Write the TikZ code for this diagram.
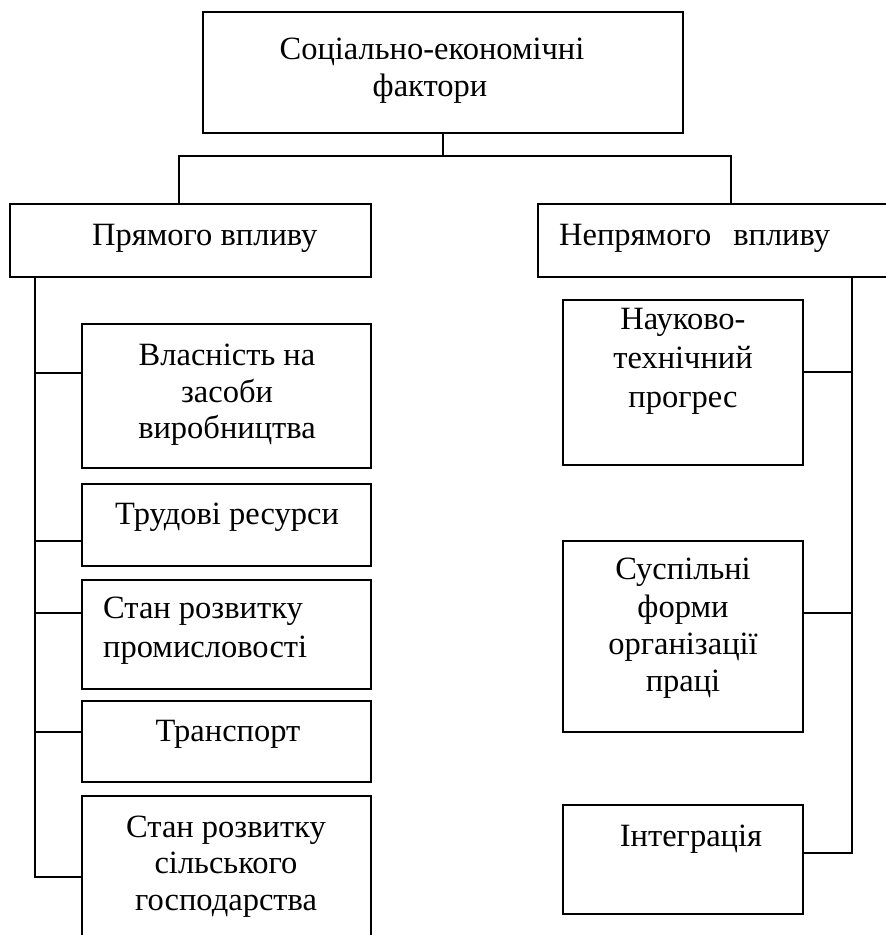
\documentclass[tikz,border=0pt]{standalone}
\usepackage{fontspec}
\setmainfont{Liberation Serif}
\begin{document}
\begin{tikzpicture}[x=1pt,y=-1pt,
  box/.style={draw, line width=1.5pt, anchor=north west, inner sep=0pt, outer sep=0pt},
  txt/.style={anchor=base, inner sep=0pt, font=\fontsize{32.5}{37}\selectfont},
  txtl/.style={txt, anchor=base west},
  conn/.style={line width=1.5pt}]
\useasboundingbox (0,0) rectangle (886,935);
% boxes
\node[box, minimum width=480pt, minimum height=121pt] (top) at (203,12) {};
\node[box, minimum width=361pt, minimum height=73pt] (pl) at (10,204) {};
\node[box, minimum width=360pt, minimum height=73pt] (pr) at (538,204) {};
\node[box, minimum width=289pt, minimum height=144pt] (b1) at (82,324) {};
\node[box, minimum width=289pt, minimum height=82pt] (b2) at (82,484) {};
\node[box, minimum width=289pt, minimum height=109pt] (b3) at (82,580) {};
\node[box, minimum width=289pt, minimum height=81pt] (b4) at (82,701) {};
\node[box, minimum width=289pt, minimum height=150pt] (b5) at (82,796) {};
\node[box, minimum width=240pt, minimum height=165pt] (r1) at (563,300) {};
\node[box, minimum width=240pt, minimum height=191pt] (r2) at (563,541) {};
\node[box, minimum width=240pt, minimum height=109pt] (r3) at (563,805) {};
% texts
\node[txt] (t1a) at (432,59) {Соціально-економічні};
\node[txt] (t1b) at (430,96) {фактори};
\node[txtl] (tpl) at (92,245) {Прямого впливу};
\node[txtl] (tpr) at (559,245) {Непрямого\hspace{22pt}впливу};
\node[txt] (tb1a) at (227,365) {Власність на};
\node[txt] (tb1b) at (227,402) {засоби};
\node[txt] (tb1c) at (227,438) {виробництва};
\node[txt] (tb2) at (227,524) {Трудові ресурси};
\node[txtl] (tb3a) at (103,618) {Стан розвитку};
\node[txtl] (tb3b) at (103,657) {промисловості};
\node[txt] (tb4) at (228,741) {Транспорт};
\node[txt] (tb5a) at (226,837) {Стан розвитку};
\node[txt] (tb5b) at (226,873) {сільського};
\node[txt] (tb5c) at (226,910) {господарства};
\node[txt] (tr1a) at (683,329) {Науково-};
\node[txt] (tr1b) at (683,368) {технічний};
\node[txt] (tr1c) at (683,407) {прогрес};
\node[txt] (tr2a) at (683,579) {Суспільні};
\node[txt] (tr2b) at (683,617) {форми};
\node[txt] (tr2c) at (683,654) {організації};
\node[txt] (tr2d) at (683,691) {праці};
\node[txt] (tr3) at (691,846) {Інтеграція};
% top connectors
\coordinate (j) at (443,156);
\coordinate (pln) at ([xshift=169pt]pl.north west);
\coordinate (prn) at ([xshift=193pt]pr.north west);
\draw[conn] (top.south) -- (j);
\draw[conn] (pln) |- (j) -| (prn);
% left spine
\coordinate (ls) at ([xshift=25pt]pl.south west);
\coordinate (c1) at ([yshift=-49pt]b1.north west);
\coordinate (c2) at ([yshift=-57pt]b2.north west);
\coordinate (c3) at ([yshift=-33pt]b3.north west);
\coordinate (c4) at ([yshift=-31pt]b4.north west);
\coordinate (c5) at ([yshift=-81pt]b5.north west);
\draw[conn] (ls) |- (c5);
\draw[conn] (c1) -- (c1 -| ls);
\draw[conn] (c2) -- (c2 -| ls);
\draw[conn] (c3) -- (c3 -| ls);
\draw[conn] (c4) -- (c4 -| ls);
% right spine
\coordinate (rs) at ([xshift=314pt]pr.south west);
\coordinate (d1) at ([yshift=-72pt]r1.north east);
\coordinate (d2) at ([yshift=-72pt]r2.north east);
\coordinate (d3) at ([yshift=-48pt]r3.north east);
\draw[conn] (rs) |- (d3);
\draw[conn] (d1) -- (d1 -| rs);
\draw[conn] (d2) -- (d2 -| rs);
\end{tikzpicture}
\end{document}
